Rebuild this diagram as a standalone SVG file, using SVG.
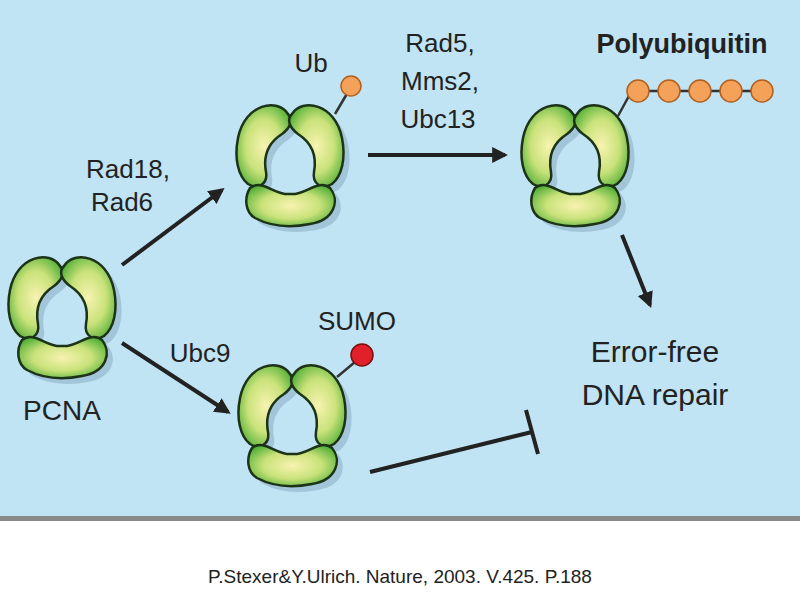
<svg xmlns="http://www.w3.org/2000/svg" width="800" height="600" viewBox="0 0 800 600">
<style>
text{font-family:"Liberation Sans",Arial,sans-serif;fill:#222}
.lbl{font-size:26px}
.conn{stroke:#222;stroke-width:4;fill:none}
.seg{fill:url(#g);stroke:#1c3318;stroke-width:2.5}
.sh{fill:#8fb2c8;opacity:.6}
</style>
<defs>
<radialGradient id="g" cx="50%" cy="50%" r="60%"><stop offset="0" stop-color="#f7f3b0"/><stop offset="0.55" stop-color="#c9e27a"/><stop offset="1" stop-color="#4fae35"/></radialGradient>
<marker id="ah" viewBox="0 0 10 10" refX="8" refY="5" markerWidth="4" markerHeight="4" orient="auto"><path d="M0,0 L10,5 L0,10 Z" fill="#222"/></marker>
<g id="ringshape">
<path d="M -2,-44 C -12,-60 -45,-55 -52,-20 C -56,0 -52,18 -42,26 C -32,32 -22,26 -24,14 C -27,-2 -22,-15 -8,-24 C 0,-30 4,-38 -2,-44 Z"/>
<path d="M 2,-44 C 12,-60 45,-55 52,-20 C 56,0 52,18 42,26 C 32,32 22,26 24,14 C 27,-2 22,-15 8,-24 C 0,-30 -4,-38 2,-44 Z"/>
<path d="M -40,30 C -28,20 -15,38 0,36 C 15,38 28,20 40,30 C 50,42 45,62 20,66 C 0,70 -20,68 -35,60 C -45,54 -46,40 -40,30 Z"/>
</g>
<g id="ring"><use href="#ringshape" class="sh" transform="translate(6,6)"/><use href="#ringshape" class="seg"/></g>
</defs>
<rect x="0" y="0" width="800" height="516" fill="#c0e4f4"/>
<rect x="0" y="516" width="800" height="5" fill="#8a8a8a"/>
<rect x="0" y="521" width="800" height="79" fill="#fff"/>
<g id="connectors">
<line class="conn" x1="122" y1="265" x2="222" y2="190" marker-end="url(#ah)"/>
<line class="conn" x1="122" y1="343" x2="228" y2="412" marker-end="url(#ah)"/>
<line class="conn" x1="368" y1="155" x2="505" y2="155" marker-end="url(#ah)"/>
<line class="conn" x1="622" y1="235" x2="650" y2="305" marker-end="url(#ah)"/>
<line class="conn" x1="370" y1="472" x2="532" y2="432"/>
<line class="conn" x1="526" y1="410" x2="538" y2="454"/>
</g>
<g id="pcna"><use href="#ring" transform="translate(62,310)"/><text x="62" y="420" font-size="28" text-anchor="middle">PCNA</text></g>
<g id="ub">
<line x1="335" y1="114" x2="348" y2="92" stroke="#333" stroke-width="2.5"/>
<circle cx="351" cy="86" r="10" fill="#f4a25a" stroke="#b3601e" stroke-width="1.5"/>
<use href="#ring" transform="translate(290,158)"/>
<text x="311" y="72" class="lbl" text-anchor="middle">Ub</text>
</g>
<g id="poly">
<line x1="618" y1="116" x2="630" y2="94" stroke="#333" stroke-width="2.5"/>
<line x1="630" y1="91" x2="762" y2="91" stroke="#333" stroke-width="2.5"/>
<g fill="#f4a25a" stroke="#b3601e" stroke-width="1.5">
<circle cx="638" cy="91" r="11"/><circle cx="669" cy="91" r="11"/><circle cx="700" cy="91" r="11"/><circle cx="731" cy="91" r="11"/><circle cx="762" cy="91" r="11"/></g>
<use href="#ring" transform="translate(575,158)"/>
<text x="682" y="53" font-size="27" font-weight="bold" text-anchor="middle">Polyubiquitin</text>
</g>
<g id="sumo">
<line x1="337" y1="377" x2="355" y2="362" stroke="#333" stroke-width="2.5"/>
<circle cx="362" cy="355" r="11" fill="#e0202a" stroke="#7a1010" stroke-width="1.5"/>
<use href="#ring" transform="translate(292,418)"/>
<text x="357" y="330" class="lbl" text-anchor="middle">SUMO</text>
</g>
<g id="labels">
<text x="128" y="178" class="lbl" text-anchor="middle">Rad18,</text>
<text x="122" y="211" class="lbl" text-anchor="middle">Rad6</text>
<text x="440" y="52" class="lbl" text-anchor="middle">Rad5,</text>
<text x="440" y="90" class="lbl" text-anchor="middle">Mms2,</text>
<text x="438" y="128" class="lbl" text-anchor="middle">Ubc13</text>
<text x="200" y="362" class="lbl" text-anchor="middle">Ubc9</text>
</g>
<g id="repair">
<text x="655" y="362" font-size="30" text-anchor="middle">Error-free</text>
<text x="655" y="405" font-size="30" text-anchor="middle">DNA repair</text>
</g>
<text x="400" y="583" font-size="19" text-anchor="middle">P.Stexer&amp;Y.Ulrich. Nature, 2003. V.425. P.188</text>
</svg>
